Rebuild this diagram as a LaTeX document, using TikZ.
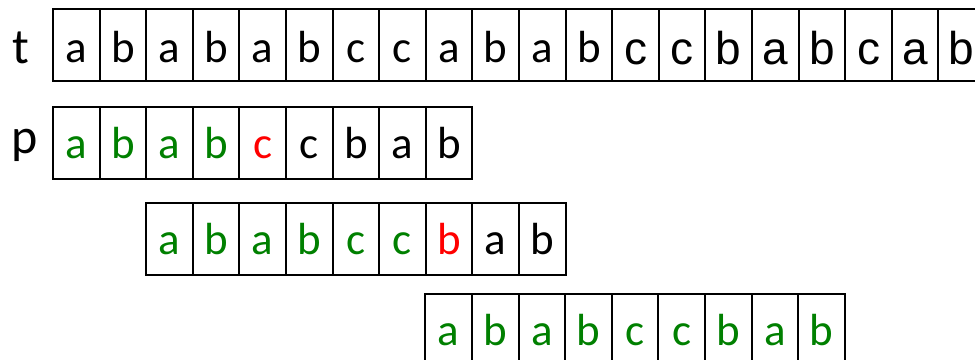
\documentclass[tikz,border=0pt]{standalone}
\usepackage{fontspec}
\newfontfamily\calfont{Carlito}
\newfontfamily\arifont{Liberation Sans}
\definecolor{okgreen}{RGB}{0,128,0}
\definecolor{badred}{RGB}{255,0,0}
\tikzset{
  cell/.style={draw, line width=2pt, minimum width=46.6pt, minimum height=72pt,
    inner sep=0pt, anchor=north west, text height=51pt, text depth=21pt},
  toprow/.style={text height=53pt, text depth=19pt},
  toprowari/.style={text height=55pt, text depth=17pt},
  calt/.style={font=\calfont\fontsize{45}{45}\selectfont},
  arit/.style={font=\arifont\fontsize{46}{46}\selectfont},
  lbl/.style={anchor=base, inner sep=0pt, font=\calfont\fontsize{50}{50}\selectfont}
}
\begin{document}
\begin{tikzpicture}[x=1pt,y=-1pt]
\useasboundingbox (0,0) rectangle (975,359);
\clip (0,0) rectangle (975,359);
% labels
\node[lbl] (lt) at (21,63) {t};
\node[lbl] (lp) at (25,153) {p};
% text row
\foreach \ch [count=\i from 0] in {a,b,a,b,a,b,c,c,a,b,a,b}
  \node[cell,toprow,calt] (t\i) at (52+\i*46.6,8) {\ch};
\foreach \ch [count=\i from 12] in {c,c,b,a,b,c,a,b}
  \node[cell,toprowari,arit] (t\i) at (52+\i*46.6,8) {\ch};
% pattern row 1
\foreach \ch/\col [count=\i from 0] in {a/okgreen,b/okgreen,a/okgreen,b/okgreen,c/badred,c/black,b/black,a/black,b/black}
  \node[cell,calt,text=\col] (pa\i) at (52+\i*46.6,106) {\ch};
% pattern row 2
\foreach \ch/\col [count=\i from 0] in {a/okgreen,b/okgreen,a/okgreen,b/okgreen,c/okgreen,c/okgreen,b/badred,a/black,b/black}
  \node[cell,calt,text=\col] (pb\i) at (145.2+\i*46.6,202) {\ch};
% pattern row 3
\foreach \ch [count=\i from 0] in {a,b,a,b,c,c,b,a,b}
  \node[cell,calt,text=okgreen] (pc\i) at (424.4+\i*46.6,293) {\ch};
\end{tikzpicture}
\end{document}
